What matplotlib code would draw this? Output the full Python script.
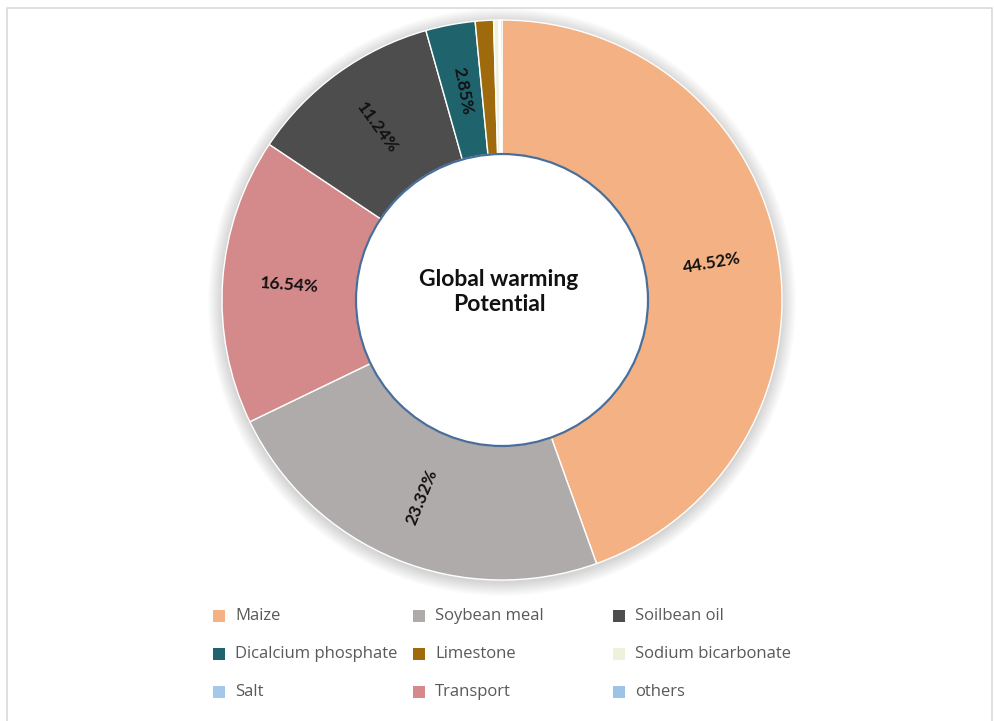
import matplotlib
matplotlib.use("Agg")
import matplotlib.pyplot as plt
from matplotlib.patches import Circle, Rectangle
import numpy as np

# Share of global warming potential by input (%), clockwise from 12 o'clock
slices = ["Maize", "Soybean meal", "Transport", "Soilbean oil",
          "Dicalcium phosphate", "Limestone", "Sodium bicarbonate", "Salt", "others"]
shares = [44.52, 23.32, 16.54, 11.24, 2.85, 1.05, 0.30, 0.08, 0.10]
colors = {
    "Maize": "#F4B183",
    "Soybean meal": "#AFABAB",
    "Soilbean oil": "#4D4D4D",
    "Dicalcium phosphate": "#1F636D",
    "Limestone": "#9E6A0C",
    "Sodium bicarbonate": "#EEF2DC",
    "Salt": "#A4C8EA",
    "Transport": "#D48A8B",
    "others": "#9DC3E6",
}
# Legend is read row by row, three per row
legend_order = ["Maize", "Soybean meal", "Soilbean oil",
                "Dicalcium phosphate", "Limestone", "Sodium bicarbonate",
                "Salt", "Transport", "others"]
center_title = "Global warming\nPotential"

W, H = 994, 721
fig = plt.figure(figsize=(W / 100, H / 100), dpi=100)
ax = fig.add_axes([0, 0, 1, 1])

cx, cy = 502, H - 300
r_out, r_in = 280, 146

# soft shadow around the ring
for k in range(14, 0, -1):
    ax.add_patch(Circle((cx, cy - 2), r_out + k, facecolor="#000000",
                        alpha=0.012, edgecolor="none", zorder=0))

wedges, _ = ax.pie(shares, colors=[colors[s] for s in slices], radius=r_out,
                   center=(cx, cy), startangle=90, counterclock=False,
                   wedgeprops=dict(width=r_out - r_in, edgecolor="white",
                                   linewidth=1.0))
for w in wedges:
    w.set_zorder(2)

# hole outline
ax.add_patch(Circle((cx, cy), r_in, facecolor="white", edgecolor="#4A6E9A",
                    linewidth=1.6, zorder=3))

# percentage labels laid along the radius at mid-ring
r_mid = (r_out + r_in) / 2
for w, v in zip(wedges, shares):
    if v < 2:
        continue
    mid = (w.theta1 + w.theta2) / 2
    x = cx + r_mid * np.cos(np.radians(mid))
    y = cy + r_mid * np.sin(np.radians(mid))
    rot = mid % 180
    if rot > 90:
        rot -= 180
    ax.text(x, y, f"{v:.2f}%", ha="center", va="center", rotation=rot,
            rotation_mode="anchor", fontsize=12.5, fontweight="bold",
            family="Lato", color="#111111", zorder=4)

ax.text(cx - 3, cy + 8, center_title, ha="center", va="center", fontsize=16.5,
        fontweight="bold", family="Lato", color="#111111", linespacing=1.2,
        zorder=4)

# legend: 3 columns, filled row by row
col_x = [235, 435, 635]
row_y = [H - 616, H - 654, H - 692]
for i, name in enumerate(legend_order):
    tx = col_x[i % 3]
    ty = row_y[i // 3]
    ax.add_patch(Rectangle((tx - 22, ty - 6), 12, 12, facecolor=colors[name],
                           edgecolor="none", zorder=4))
    ax.text(tx, ty, name, ha="left", va="center", fontsize=12,
            family="Open Sans", color="#595959", zorder=4)

# chart area border
ax.plot([7, 7, 992, 992], [0, H - 8, H - 8, 0], color="#D9D9D9",
        linewidth=1.2, zorder=1)

ax.set_xlim(0, W)
ax.set_ylim(0, H)
ax.set_aspect("auto")
ax.set_axis_off()

fig.savefig("out.png", dpi=100, facecolor="white")
